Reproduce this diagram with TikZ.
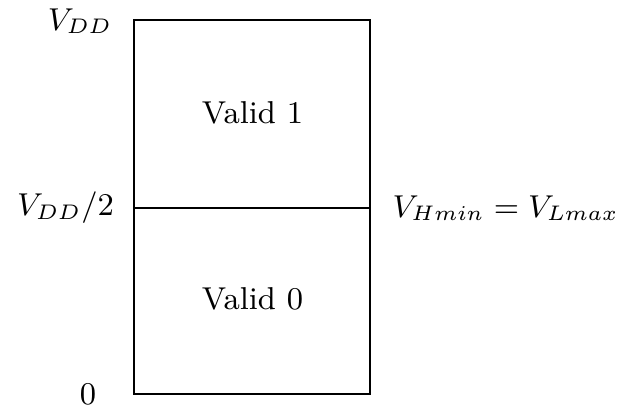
\documentclass[tikz,border=0pt]{standalone}
\begin{document}
\begin{tikzpicture}[font=\small]
    \useasboundingbox (0,0) rectangle (6.28,4.06);
    % Corners
    \coordinate (bl) at (1.34, 0.12);
    \coordinate (tr) at (3.70, 3.86);
    \coordinate (ml) at (1.34, 1.98);
    \coordinate (mr) at (3.70, 1.98);

    % Nodes
    \node[inner sep=0pt] at (0.80, 3.85) (vdd) {$V_{DD}$};
    \node[inner sep=0pt] at (0.655, 1.98) (half) {$V_{DD}/2$};
    \node[inner sep=0pt] at (0.88, 0.12) (zero) {$0$};
    \node[inner sep=0pt, anchor=west] at (3.92, 1.98) (thr) {$V_{Hmin} = V_{Lmax}$};
    \node at (2.525, 2.93) (one) {Valid 1};
    \node at (2.525, 1.07) (nil) {Valid 0};

    \draw[semithick] (bl) rectangle (tr);
    \draw[semithick] (ml) -- (mr);
  \end{tikzpicture}
\end{document}
